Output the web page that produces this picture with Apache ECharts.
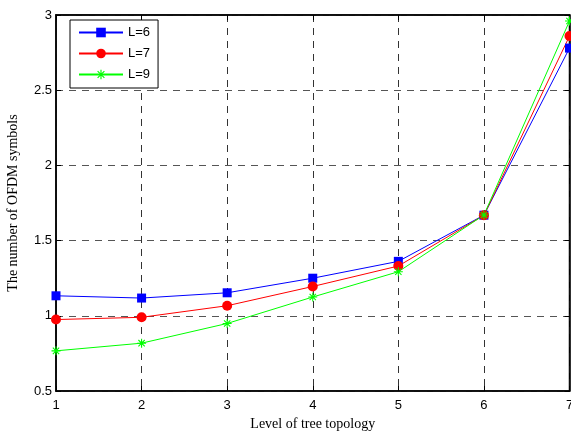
<!DOCTYPE html>
<html><head><meta charset="utf-8">
<script src="https://cdn.jsdelivr.net/npm/echarts@6/dist/echarts.min.js"></script>
<style>html,body{margin:0;padding:0;background:#fff}#c{width:571px;height:432px}</style>
</head><body><div id="c"></div>
<script>
const levels = [1, 2, 3, 4, 5, 6, 7];
const L6 = [1.133, 1.118, 1.153, 1.25, 1.362, 1.669, 2.78];
const L7 = [0.975, 0.99, 1.067, 1.195, 1.331, 1.668, 2.86];
const L9 = [0.767, 0.818, 0.949, 1.125, 1.293, 1.67, 2.96];
const seriesNames = ['L=6', 'L=7', 'L=9'];
const xTitle = 'Level of tree topology';
const yTitle = 'The number of OFDM symbols';

const star = 'path://M-1,-0.12L1,-0.12L1,0.12L-1,0.12Z M-0.12,-1L0.12,-1L0.12,1L-0.12,1Z M-0.79,-0.62L-0.62,-0.79L0.79,0.62L0.62,0.79Z M0.62,-0.79L0.79,-0.62L-0.62,0.79L-0.79,0.62Z';
const pair = a => a.map((v, i) => [levels[i], v]);
const tickFont = {fontFamily: 'Liberation Sans', fontSize: 13, color: '#000'};
const chart = echarts.init(document.getElementById('c'));
chart.setOption({
  animation: false,
  grid: {left: 56, right: 1.5, top: 15, bottom: 41, outerBoundsMode: 'none', containLabel: false,
         show: true, borderColor: '#000', borderWidth: 1.5, backgroundColor: '#fff'},
  legend: {
    orient: 'vertical', left: 70, top: 20, itemGap: 8,
    padding: [6, 8, 7, 8],
    itemWidth: 44, itemHeight: 12,
    borderColor: '#000', borderWidth: 1, backgroundColor: '#fff',
    textStyle: {fontFamily: 'Liberation Sans', fontSize: 13, color: '#000'},
    data: seriesNames
  },
  xAxis: [{
    type: 'value', min: 1, max: 7, interval: 1,
    name: xTitle, nameLocation: 'middle', nameGap: 24,
    nameTextStyle: {fontFamily: 'Liberation Serif', fontSize: 14, color: '#000'},
    axisLine: {show: true, onZero: false, lineStyle: {color: '#000', width: 1.5}},
    axisTick: {show: true, inside: true, length: 5, lineStyle: {color: '#000'}},
    axisLabel: Object.assign({margin: 8}, tickFont),
    splitLine: {show: true, lineStyle: {color: '#333', type: [7, 6], width: 1}}
  }, {
    type: 'value', min: 1, max: 7, interval: 1, position: 'top',
    axisLine: {show: true, lineStyle: {color: '#000', width: 1.5}},
    axisTick: {show: true, inside: true, length: 5, lineStyle: {color: '#000'}},
    axisLabel: {show: false}, splitLine: {show: false}
  }],
  yAxis: [{
    type: 'value', min: 0.5, max: 3, interval: 0.5,
    name: yTitle, nameLocation: 'middle', nameGap: 36, nameRotate: 90,
    nameTextStyle: {fontFamily: 'Liberation Serif', fontSize: 14, color: '#000'},
    axisLine: {show: true, lineStyle: {color: '#000', width: 1.5}},
    axisTick: {show: true, inside: true, length: 5, lineStyle: {color: '#000'}},
    axisLabel: Object.assign({margin: 4, formatter: v => String(v)}, tickFont),
    splitLine: {show: true, lineStyle: {color: '#555', type: [7, 6], width: 1}}
  }, {
    type: 'value', min: 0.5, max: 3, interval: 0.5, position: 'right',
    axisLine: {show: true, lineStyle: {color: '#000', width: 1.5}},
    axisTick: {show: true, inside: true, length: 5, lineStyle: {color: '#000'}},
    axisLabel: {show: false}, splitLine: {show: false}
  }],
  series: [
    {name: seriesNames[0], type: 'line', data: pair(L6), symbol: 'rect', symbolSize: 9,
     lineStyle: {color: '#0000ff', width: 1}, itemStyle: {color: '#0000ff'}},
    {name: seriesNames[1], type: 'line', data: pair(L7), symbol: 'circle', symbolSize: 10,
     lineStyle: {color: '#ff0000', width: 1}, itemStyle: {color: '#ff0000'}},
    {name: seriesNames[2], type: 'line', data: pair(L9), symbol: star, symbolSize: 9,
     lineStyle: {color: '#00ff00', width: 1}, itemStyle: {color: '#00ff00'}}
  ]
});
</script></body></html>
